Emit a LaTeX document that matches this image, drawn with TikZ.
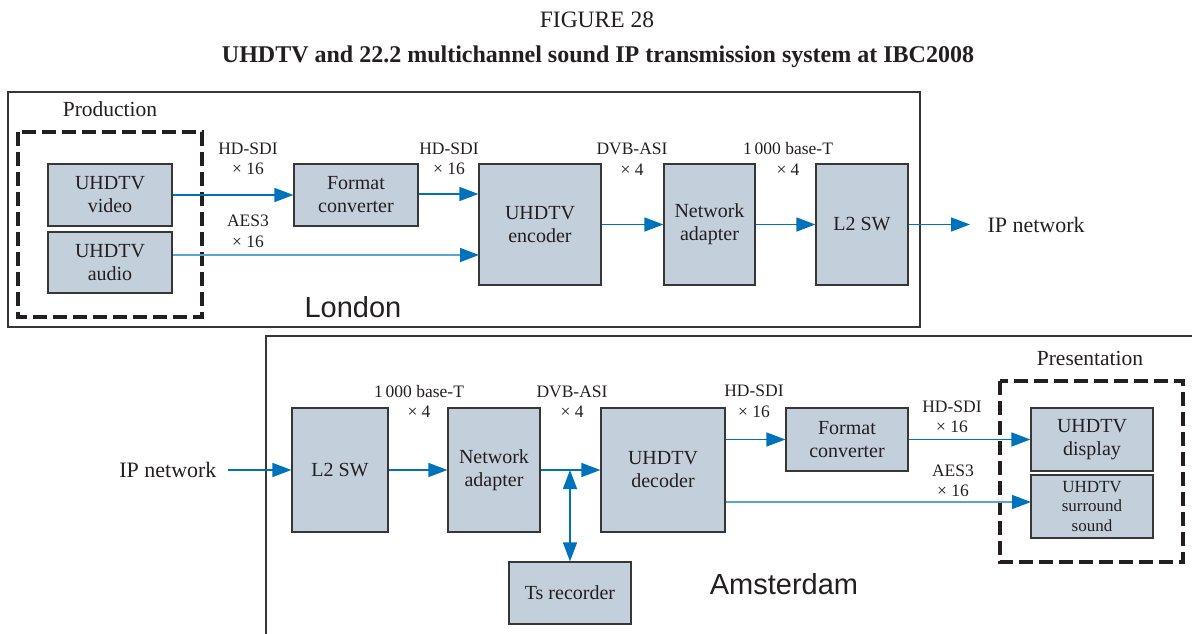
\documentclass[tikz,border=0pt]{standalone}
\usepackage{fontspec}
\setmainfont{Liberation Serif}
\newfontfamily\citysans{Liberation Sans}
\usetikzlibrary{arrows.meta}
\definecolor{boxfill}{RGB}{195,207,219}
\definecolor{boxline}{RGB}{55,55,55}
\definecolor{linkblue}{RGB}{0,114,188}
\definecolor{aesblue}{RGB}{85,165,215}
\definecolor{inkgrey}{RGB}{35,31,32}

\begin{document}
\begin{tikzpicture}[
        x=1pt, y=-1pt,
        >={Triangle[length=19pt,width=14pt,color=linkblue]},
        every node/.style={text=inkgrey},
        box/.style={draw=boxline, fill=boxfill, line width=1.2pt, inner sep=0pt,
            align=center, font=\fontsize{20}{23}\selectfont},
        lbl/.style={align=center, font=\fontsize{17.5}{20.5}\selectfont},
        link/.style={draw=linkblue, line width=1.4pt, ->},
        aes/.style={link, draw=aesblue},
        group/.style={draw=inkgrey, line width=4pt, dash pattern=on 14pt off 6pt},
        frame/.style={draw=inkgrey!90, line width=2pt}]

    \useasboundingbox (0,0) rectangle (1192,634);

    % title
    \node (fig) at (597,20) {\fontsize{23.5}{26}\selectfont FIGURE 28};
    \node (title) at (598,57) {\fontsize{24}{27}\selectfont\bfseries UHDTV and 22.2 multichannel sound IP transmission system at IBC2008};

    % London
    \draw[frame] (8,92) rectangle (920,327);
    \draw[group] (18,132) rectangle (202,317);
    \node (prod) at (110,109) {\fontsize{21.5}{24}\selectfont Production};
    \node (london) at (353,307) {\citysans\fontsize{29}{32}\selectfont London};

    \node[box, minimum width=124pt, minimum height=62pt] (video) at (110,195) {UHDTV\\video};
    \node[box, minimum width=124pt, minimum height=61pt] (audio) at (110,262.5) {UHDTV\\audio};
    \node[box, minimum width=124pt, minimum height=62pt] (fmtA) at (356,195) {Format\\converter};
    \node[box, minimum width=122pt, minimum height=121pt] (enc) at (540,224.5) {UHDTV\\encoder};
    \node[box, minimum width=91pt, minimum height=121pt] (netA) at (709.5,224.5) {Network\\adapter};
    \node[box, minimum width=92pt, minimum height=121pt] (swA) at (862,224.5) {L2 SW};
    \coordinate (ipA) at (970,224.5);
    \node[anchor=west] (ipAtext) at (984,224.5) {\fontsize{22}{25}\selectfont IP network};
    \coordinate (aesA) at (479,255);

    \draw[link] (video) -- (fmtA);
    \draw[link] (fmtA.east |- 0,194) -- (enc.west |- 0,194);
    \draw[aes] (audio.east |- aesA) -- (aesA);
    \draw[link] (enc) -- (netA);
    \draw[link] (netA) -- (swA);
    \draw[link] (swA) -- (ipA);

    \node[lbl] (lblA1) at (248,159) {HD-SDI\\× 16};
    \node[lbl] (lblA2) at (248,231.5) {AES3\\× 16};
    \node[lbl] (lblA3) at (449,159) {HD-SDI\\× 16};
    \node[lbl] (lblA4) at (632,159) {DVB-ASI\\× 4};
    \node[lbl] (lblA5) at (788,159) {1\,000 base-T\\× 4};

    % Amsterdam
    \draw[frame] (1195,336) -- (266,336) -- (266,640);
    \draw[group] (1000,381) rectangle (1183,562);
    \node (pres) at (1090,358) {\fontsize{21.5}{24}\selectfont Presentation};
    \node (amsterdam) at (784,584) {\citysans\fontsize{29}{32}\selectfont Amsterdam};

    \node[anchor=east] (ipBtext) at (220,470) {\fontsize{22}{25}\selectfont IP network};
    \coordinate (ipB) at (228,470);
    \node[box, minimum width=96pt, minimum height=124pt] (swB) at (340,470) {L2 SW};
    \node[box, minimum width=92pt, minimum height=124pt] (netB) at (494,470) {Network\\adapter};
    \node[box, minimum width=124pt, minimum height=124pt] (dec) at (663,470) {UHDTV\\decoder};
    \node[box, minimum width=122pt, minimum height=62pt] (ts) at (570,593) {Ts recorder};
    \node[box, minimum width=122pt, minimum height=63pt] (fmtB) at (847,439.5) {Format\\converter};
    \node[box, minimum width=122pt, minimum height=63pt] (disp) at (1092,439.5) {UHDTV\\display};
    \node[box, minimum width=122pt, minimum height=63pt, font=\fontsize{17}{19.5}\selectfont] (surr) at (1092,506.5) {UHDTV\\surround\\sound};
    \coordinate (tap) at (570,470);
    \coordinate (aesB) at (1031,502);

    \draw[link] (ipB) -- (swB);
    \draw[link] (swB) -- (netB);
    \draw[link] (netB) -- (dec);
    \draw[link, <->] (tap) -- (ts);
    \draw[link] (dec.east |- fmtB.west) -- (fmtB);
    \draw[link] (fmtB) -- (disp);
    \draw[aes] (dec.east |- aesB) -- (aesB);

    \node[lbl] (lblB1) at (419,401.5) {1\,000 base-T\\× 4};
    \node[lbl] (lblB2) at (572,401.5) {DVB-ASI\\× 4};
    \node[lbl] (lblB3) at (754,401.5) {HD-SDI\\× 16};
    \node[lbl] (lblB4) at (952,417) {HD-SDI\\× 16};
    \node[lbl] (lblB5) at (953,481) {AES3\\× 16};

\end{tikzpicture}
\end{document}
